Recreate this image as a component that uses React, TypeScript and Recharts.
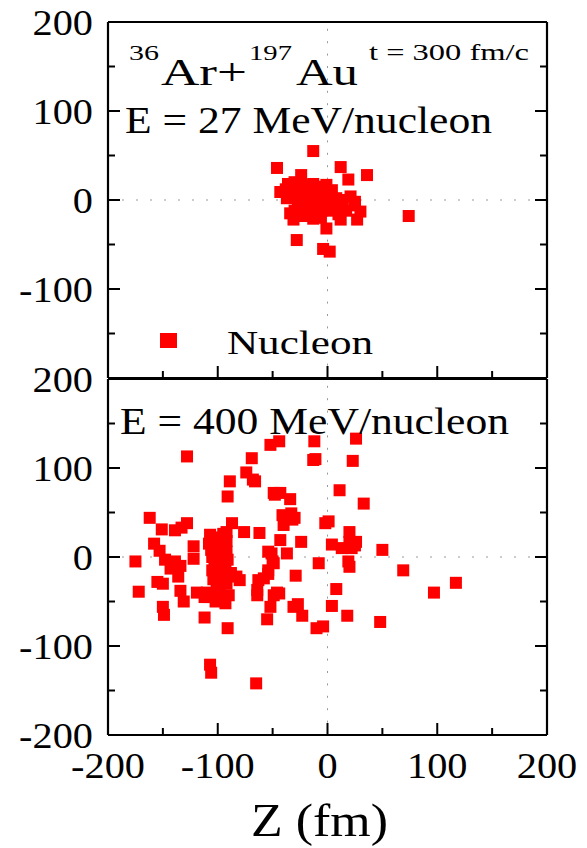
import React from "react";
import { ReferenceLine, Scatter, ScatterChart, XAxis, YAxis } from "recharts";

// [Z, X] in fm
const LOW_E_POINTS: [number, number][] = [
  [-13, 55], [-46, 36], [12, 37], [36, 28], [19, 23], [-24, 28], [-43, 9], [-36, 18], [-30, 20], [-26, 15],
  [-19, 17], [-13, 18], [-8, 15], [-1, 17], [4, 11], [-38, 12], [-33, 7], [-28, 10], [-22, 8], [-16, 11],
  [-10, 9], [-4, 6], [2, 4], [8, 2], [14, 0], [21, 4], [25, -2], [25, -6], [30, -13], [27, -22],
  [12, -22], [8, -9], [1, -12], [-1, -32], [-13, -21], [-7, -11], [-31, -22], [-34, -15], [-28, -45], [-4, -55],
  [2, -58], [-24, -8], [-18, 4], [-7, 0], [-20, -5], [-14, -10], [-27, -3], [-12, -1], [3, -5], [17, -12],
  [74, -18], [-37, 2], [-30, -12], [-22, -18], [-6, -20], [10, -16],
];

const HIGH_E_POINTS: [number, number][] = [
  [-128, 113], [-52, 126], [-44, 130], [-12, 130], [26, 133], [-13, 109], [-11, 110], [23, 108], [-69, 111], [-74, 95],
  [-68, 87], [-66, 85], [-89, 85], [-91, 68], [-48, 70], [-49, 72], [-43, 72], [-34, 65], [11, 75], [33, 60],
  [-41, 47], [-33, 49], [-30, 44], [-40, 36], [-32, 42], [-162, 44], [-151, 31], [-139, 30], [-133, 33], [-128, 38],
  [-87, 38], [-76, 28], [-62, 27], [-92, 28], [-2, 38], [1, 40], [20, 28], [26, 17], [20, 17], [4, 14],
  [13, 10], [22, 10], [25, 13], [-24, 17], [-43, 19], [50, 8],
  [-107, 25], [-104, 22], [-100, 20], [-95, 26], [-92, 18], [-108, 15], [-103, 12], [-98, 14], [-94, 10], [-106, 8],
  [-101, 5], [-96, 3], [-92, 6], [-105, 0], [-99, -2], [-95, -5], [-91, -3], [-103, -8], [-97, -10], [-93, -12],
  [-105, -15], [-100, -18], [-96, -20], [-104, -25], [-98, -28], [-92, -30], [-101, -33], [-110, -40], [-108, -45], [-97, -45],
  [-88, -18],
  [-158, 15], [-153, 7], [-175, -5], [-148, -3], [-139, -5], [-143, -13], [-134, -10], [-136, -22], [-155, -28], [-150, -30],
  [-172, -39], [-134, -38], [-131, -50], [-150, -56], [-149, -65], [-122, 12], [-122, -2], [-119, -40], [-112, -45], [-112, -68],
  [-91, -80], [-102, -50], [-93, -52], [-98, -39], [-90, -43], [-83, -22], [-80, -26], [-107, -121], [-106, -130], [-65, -142],
  [-54, 6], [-50, -5], [-51, 4], [-37, 4], [-54, -15], [-54, -19], [-29, -21], [-63, -26], [-64, -37], [-64, -43],
  [-49, -43], [-44, -41], [-52, -56], [-55, -70], [-31, -56], [-27, -53], [-23, -66], [-10, -80], [-4, -78], [-8, -7],
  [8, -36], [4, -55], [18, -66], [19, -5], [20, -11], [48, -73], [69, -15], [97, -40], [117, -29], [-49, -7],
  [-58, -24], [-46, -40],
];

const ALL_TICKS = [-200, -150, -100, -50, 0, 50, 100, 150, 200];
const X_LABELS = [-200, -100, 0, 100, 200];
const TOP_Y_LABELS = [-100, 0, 100, 200];
const BOTTOM_Y_LABELS = [-200, -100, 0, 100, 200];

const FONT = "Liberation Serif, Times New Roman, serif";
const RED = "#ff0000";
const AXIS_LINE = { stroke: "#000", strokeWidth: 2.2 };
const DOMAIN: [number, number] = [-200, 200];

// inward tick length: long at multiples of 100, short at the 50s, none at the corners
const tickLen = (v: number) => (Math.abs(v) === 200 ? 0 : v % 100 === 0 ? 12 : 7);

const makeTick = (side: "left" | "right" | "top" | "bottom", labels: number[]) => (p: any) => {
  const v = p.payload.value;
  const n = tickLen(v);
  const { x, y } = p;
  let line = null;
  if (n > 0) {
    if (side === "left") line = <line x1={x} y1={y} x2={x + n} y2={y} stroke="#000" strokeWidth={2} />;
    if (side === "right") line = <line x1={x} y1={y} x2={x - n} y2={y} stroke="#000" strokeWidth={2} />;
    if (side === "top") line = <line x1={x} y1={y} x2={x} y2={y + n} stroke="#000" strokeWidth={2} />;
    if (side === "bottom") line = <line x1={x} y1={y} x2={x} y2={y - n} stroke="#000" strokeWidth={2} />;
  }
  let label = null;
  if (labels.includes(v)) {
    if (side === "left")
      label = (
        <text transform={`translate(${x - 15},${y}) scale(1.12,1)`} textAnchor="end" dy="0.35em" fontFamily={FONT} fontSize={36} fill="#000">
          {v}
        </text>
      );
    if (side === "bottom")
      label = (
        <text transform={`translate(${x},${y + 17}) scale(1.12,1)`} textAnchor="middle" dy="0.71em" fontFamily={FONT} fontSize={36} fill="#000">
          {v}
        </text>
      );
  }
  return (
    <g>
      {line}
      {label}
    </g>
  );
};

const Square = (p: any) => <rect x={p.cx - 6} y={p.cy - 6} width={12} height={12} fill={RED} />;

type PanelProps = { points: [number, number][]; top: number; bottom: number; yLabels: number[]; xLabels: number[] };

function Panel({ points, top, bottom, yLabels, xLabels }: PanelProps) {
  const data = points.map(([z, x]) => ({ z, x }));
  const common = { type: "number" as const, domain: DOMAIN, allowDataOverflow: true, ticks: ALL_TICKS, interval: 0 as const, tickSize: 0, tickMargin: 0, tickLine: false, axisLine: AXIS_LINE };
  return (
    <div style={{ position: "absolute", left: 0, top: 0 }}>
      <ScatterChart width={587} height={848} margin={{ top, right: 40, bottom, left: 8 }}>
        <XAxis xAxisId="xb" dataKey="z" {...common} orientation="bottom" height={30} tick={makeTick("bottom", xLabels)} />
        <XAxis xAxisId="xt" {...common} orientation="top" mirror tick={makeTick("top", [])} />
        <YAxis yAxisId="yl" dataKey="x" {...common} orientation="left" width={100} tick={makeTick("left", yLabels)} />
        <YAxis yAxisId="yr" {...common} orientation="right" mirror tick={makeTick("right", [])} />
        <ReferenceLine xAxisId="xb" yAxisId="yl" x={0} stroke="#999" strokeWidth={1} strokeDasharray="2 10.4" />
        <ReferenceLine xAxisId="xb" yAxisId="yl" y={0} stroke="#999" strokeWidth={1} strokeDasharray="2 12" />
        <Scatter xAxisId="xb" yAxisId="yl" data={data} shape={Square} isAnimationActive={false} />
      </ScatterChart>
    </div>
  );
}

export default function App() {
  const txt = { fontFamily: FONT, fill: "#000" };
  return (
    <div style={{ position: "absolute", left: 0, top: 0, width: 587, height: 848, background: "#fff" }}>
      <Panel points={LOW_E_POINTS} top={22} bottom={440} yLabels={TOP_Y_LABELS} xLabels={[]} />
      <Panel points={HIGH_E_POINTS} top={379} bottom={83} yLabels={BOTTOM_Y_LABELS} xLabels={X_LABELS} />
      <svg width={587} height={848} style={{ position: "absolute", left: 0, top: 0, pointerEvents: "none" }}>
        <text {...txt} x={129} y={60} fontSize={22} textLength={30} lengthAdjust="spacingAndGlyphs">36</text>
        <text {...txt} x={161} y={85} fontSize={37} textLength={86} lengthAdjust="spacingAndGlyphs">Ar+</text>
        <text {...txt} x={249} y={60} fontSize={22} textLength={43} lengthAdjust="spacingAndGlyphs">197</text>
        <text {...txt} x={296} y={85} fontSize={37} textLength={62} lengthAdjust="spacingAndGlyphs">Au</text>
        <text {...txt} x={369} y={60} fontSize={23} textLength={160} lengthAdjust="spacingAndGlyphs">t = 300 fm/c</text>
        <text {...txt} x={125} y={133} fontSize={37} textLength={367} lengthAdjust="spacingAndGlyphs">E = 27 MeV/nucleon</text>
        <rect x={160} y={333} width={17} height={15} fill={RED} />
        <text {...txt} x={227} y={354} fontSize={34} textLength={146} lengthAdjust="spacingAndGlyphs">Nucleon</text>
        <text {...txt} x={120} y={434} fontSize={37} textLength={389} lengthAdjust="spacingAndGlyphs">E = 400 MeV/nucleon</text>
        <text {...txt} x={251} y={836} fontSize={46} textLength={137} lengthAdjust="spacingAndGlyphs">Z (fm)</text>
      </svg>
    </div>
  );
}
